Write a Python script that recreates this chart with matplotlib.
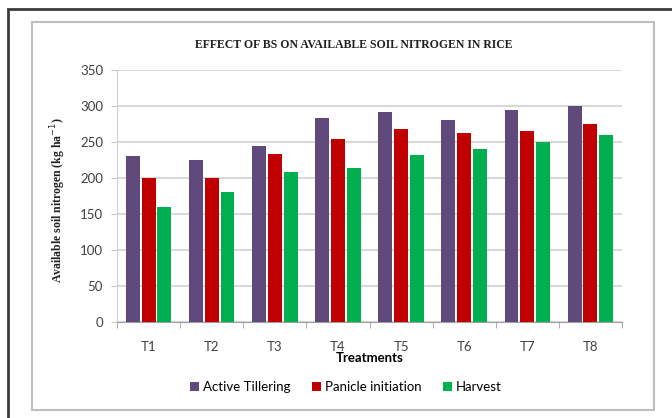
import numpy as np
import matplotlib.pyplot as plt
from matplotlib.patches import Rectangle

# data
treatments = ['T1', 'T2', 'T3', 'T4', 'T5', 'T6', 'T7', 'T8']
active_tillering = [230, 225, 245, 284, 292, 280, 294, 300]
panicle_initiation = [200, 200, 234, 254, 268, 262, 265, 275]
harvest = [160, 180, 209, 214, 232, 240, 250, 260]
series_names = ['Active Tillering', 'Panicle initiation', 'Harvest']
colors = ['#604A7B', '#C00000', '#00B050']

fig = plt.figure(figsize=(6.72, 4.18), dpi=100)
W, H = 672, 418

# outer dark frame and inner light chart frame
fig.patches.append(Rectangle((8 / W, -0.1), 1.0, 1 - 9 / H + 0.1, transform=fig.transFigure,
                             fill=False, edgecolor='#3c3c3c', linewidth=2))
fig.patches.append(Rectangle((32 / W, 1 - 410 / H), 622 / W, 388 / H, transform=fig.transFigure,
                             fill=False, edgecolor='#BFBFBF', linewidth=1.5))

ax = fig.add_axes([117 / W, 1 - 322 / H, 505 / W, 252 / H])
x = np.arange(len(treatments))
w = 0.22
for i, vals in enumerate([active_tillering, panicle_initiation, harvest]):
    ax.bar(x + (i - 1) * 0.25, vals, width=w, color=colors[i], label=series_names[i], zorder=3)

ax.set_xlim(-0.5, 7.5)
ax.set_ylim(0, 350)
ax.set_yticks(range(0, 351, 50))
ax.grid(axis='y', color='#D9D9D9', linewidth=1.5, zorder=0)
ax.set_xticks(x)
ax.set_xticklabels(treatments, family='Lato', fontsize=9.5, color='#404040')
ax.set_xticks(np.arange(-0.5, 8, 1), minor=True)
ax.tick_params(axis='x', which='major', length=0, pad=14)
ax.tick_params(axis='x', which='minor', length=4, color='#A0A0A0')
ax.tick_params(axis='y', length=4, color='#C8C8C8', pad=6)
for lab in ax.get_yticklabels():
    lab.set_family('Lato')
    lab.set_fontsize(9.5)
    lab.set_color('#404040')
for s in ['top', 'right']:
    ax.spines[s].set_visible(False)
ax.spines['left'].set_color('#D0D0D0')
ax.spines['bottom'].set_color('#A0A0A0')

ax.set_xlabel('Treatments', family='Lato', fontweight='bold', fontsize=9.5, labelpad=-1)

fig.text(354 / W, 1 - 45 / H, 'EFFECT OF BS ON AVAILABLE SOIL NITROGEN IN RICE',
         family='Liberation Serif', fontweight='bold', fontsize=8.5, ha='center', va='center',
         color='#202020')
fig.text(58 / W, 1 - 200 / H, 'Available soil nitrogen (kg ha$^{-1}$)',
         family='Liberation Serif', fontweight='bold', fontsize=8.5, rotation=90,
         ha='center', va='center', color='#202020')

fig.legend(loc='center', bbox_to_anchor=(346 / W, 1 - 387 / H), ncol=3, frameon=False,
           prop={'family': 'Lato', 'size': 9.5}, handlelength=0.7, handleheight=0.7,
           handletextpad=0.3, columnspacing=1.6)

fig.savefig('out.png', dpi=100)
